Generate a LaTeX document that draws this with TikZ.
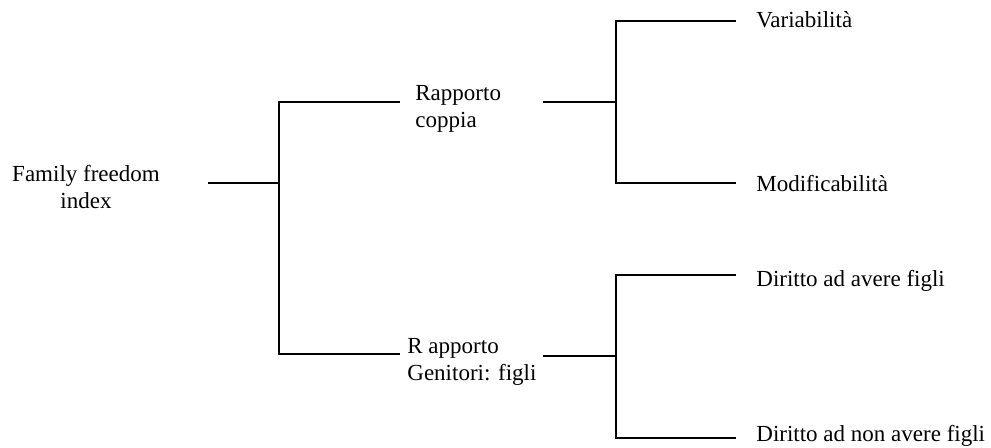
\documentclass[tikz,border=0pt]{standalone}
\usepackage{fontspec}
\setmainfont{Liberation Serif}
\usetikzlibrary{positioning, calc}
\tikzstyle{txt} = [inner sep=0pt, font=\fontsize{11.5}{13.5}\selectfont]
\tikzstyle{mid} = [txt, anchor=base west, align=left]
\tikzstyle{leaf} = [txt, anchor=base west]
\tikzstyle{branch} = [line width=0.9pt, black]

\begin{document}
\begin{tikzpicture}[x=0.5pt, y=-0.5pt]
	\useasboundingbox (0,0) rectangle (991,447);

	% Labels
	\node (root) [txt, anchor=base, align=center] at (86,208) {Family freedom\\index};
	\node (coppia) [mid] at (415,127) {Rapporto\\coppia};
	\node (genitori) [mid] at (407,380) {R apporto\\Genitori: figli};
	\node (var) [leaf] at (756,27) {Variabilità};
	\node (mod) [leaf] at (756,191) {Modificabilità};
	\node (avere) [leaf] at (756,286) {Diritto ad avere figli};
	\node (nonavere) [leaf] at (756,441) {Diritto ad non avere figli};

	% Line ends and junctions
	\coordinate (rootout) at (208,183);
	\coordinate (j0) at (279,183);
	\coordinate (coppiain) at (400,102);
	\coordinate (genin) at (400,354);
	\coordinate (coppiaout) at (543,102);
	\coordinate (j1) at (616,102);
	\coordinate (varin) at (736,21);
	\coordinate (modin) at (736,183);
	\coordinate (genout) at (543,356);
	\coordinate (j2) at (616,356);
	\coordinate (averein) at (736,275);
	\coordinate (nonin) at (736,438);

	% Connectors
	\draw[branch] (rootout) -- (j0);
	\draw[branch] (coppiain) -| (j0) |- (genin);
	\draw[branch] (coppiaout) -- (j1);
	\draw[branch] (varin) -| (j1) |- (modin);
	\draw[branch] (genout) -- (j2);
	\draw[branch] (averein) -| (j2) |- (nonin);

\end{tikzpicture}
\end{document}
